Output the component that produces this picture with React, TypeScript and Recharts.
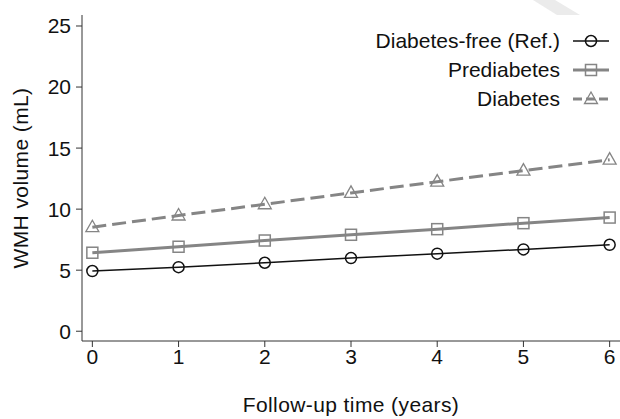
import { LineChart, Line, XAxis, YAxis } from "recharts";

const years = [0, 1, 2, 3, 4, 5, 6];
const diabetesFree = [4.93, 5.25, 5.61, 5.99, 6.35, 6.7, 7.08];
const prediabetes = [6.43, 6.92, 7.43, 7.9, 8.36, 8.85, 9.31];
const diabetes = [8.52, 9.48, 10.4, 11.33, 12.25, 13.15, 14.05];
const yTicks = [0, 5, 10, 15, 20, 25];

const data = years.map((t, i) => ({
  t,
  free: diabetesFree[i],
  pre: prediabetes[i],
  dia: diabetes[i],
}));

const FONT = "'Liberation Sans', Arial, sans-serif";
const GRAY = "#858585";
const INK = "#111";

const Circle = (props: any) => {
  const { cx, cy } = props;
  return <circle cx={cx} cy={cy} r={5.5} fill="none" stroke={INK} strokeWidth={1.5} />;
};

const Square = (props: any) => {
  const { cx, cy } = props;
  return (
    <rect x={cx - 5.5} y={cy - 5.5} width={11} height={11} fill="none" stroke={GRAY} strokeWidth={1.5} />
  );
};

const Triangle = (props: any) => {
  const { cx, cy } = props;
  return (
    <polygon
      points={`${cx},${cy - 7} ${cx - 6.5},${cy + 4.5} ${cx + 6.5},${cy + 4.5}`}
      fill="none"
      stroke={GRAY}
      strokeWidth={1.3}
    />
  );
};

const legendItems = [
  { name: "Diabetes-free (Ref.)", color: INK, width: 1.5, dash: undefined, Shape: Circle },
  { name: "Prediabetes", color: GRAY, width: 3, dash: undefined, Shape: Square },
  { name: "Diabetes", color: GRAY, width: 3, dash: "9 4", Shape: Triangle },
];

// legend drawn as an overlay so it doesn't shrink the plot area
const ChartLegend = () => (
  <div
    style={{
      position: "absolute",
      top: 26,
      right: 10,
      fontFamily: FONT,
      fontSize: 21,
      color: INK,
    }}
  >
    {legendItems.map((item) => (
      <div
        key={item.name}
        style={{ display: "flex", alignItems: "center", justifyContent: "flex-end", height: 29 }}
      >
        <span style={{ lineHeight: "29px" }}>{item.name}</span>
        <svg width={38} height={20} style={{ marginLeft: 12 }}>
          <line
            x1={1}
            y1={10}
            x2={37}
            y2={10}
            stroke={item.color}
            strokeWidth={item.width}
            strokeDasharray={item.dash}
          />
          <item.Shape cx={19} cy={10} />
        </svg>
      </div>
    ))}
  </div>
);

export default function App() {
  return (
    <div style={{ position: "fixed", left: 0, top: 0, width: 620, height: 419, background: "#fff" }}>
      <svg width={620} height={419} style={{ position: "absolute", left: 0, top: 0 }}>
        <polygon points="533,0 555,0 580,15 557,15" fill="#ebebeb" />
      </svg>
      <div style={{ position: "absolute", left: 0, top: 0 }}>
        <LineChart
          width={620}
          height={419}
          data={data}
          margin={{ top: 15, right: 0, bottom: 0, left: 0 }}
        >
          <XAxis
            dataKey="t"
            type="number"
            domain={[-0.12, 6.12]}
            ticks={years}
            allowDataOverflow
            height={78}
            tickSize={6}
            stroke="#333"
            tick={{ fill: INK, fontSize: 21, fontFamily: FONT, dy: 0 }}
            label={{
              value: "Follow-up time (years)",
              position: "insideBottom",
              offset: 7,
              fill: INK,
              fontSize: 21,
              fontFamily: FONT,
              letterSpacing: 0.4,
            }}
          />
          <XAxis
            xAxisId="top"
            dataKey="t"
            type="number"
            orientation="top"
            domain={[-0.12, 6.12]}
            height={0}
            tick={false}
            tickLine={false}
            stroke="#333"
          />
          <YAxis
            type="number"
            domain={[-0.8, 25.9]}
            ticks={yTicks}
            allowDataOverflow
            width={82}
            tickSize={6}
            stroke="#333"
            tick={{ fill: INK, fontSize: 21, fontFamily: FONT, dx: -3 }}
            label={{
              value: "WMH volume (mL)",
              angle: -90,
              position: "insideLeft",
              offset: 21,
              style: { textAnchor: "middle" },
              fill: INK,
              fontSize: 21,
              fontFamily: FONT,
              letterSpacing: 0.4,
            }}
          />
          <Line
            dataKey="free"
            stroke={INK}
            strokeWidth={1.5}
            dot={<Circle />}
            isAnimationActive={false}
          />
          <Line
            dataKey="pre"
            stroke={GRAY}
            strokeWidth={3}
            dot={<Square />}
            isAnimationActive={false}
          />
          <Line
            dataKey="dia"
            stroke={GRAY}
            strokeWidth={3}
            strokeDasharray="14 6"
            dot={<Triangle />}
            isAnimationActive={false}
          />
        </LineChart>
      </div>
      <ChartLegend />
    </div>
  );
}
